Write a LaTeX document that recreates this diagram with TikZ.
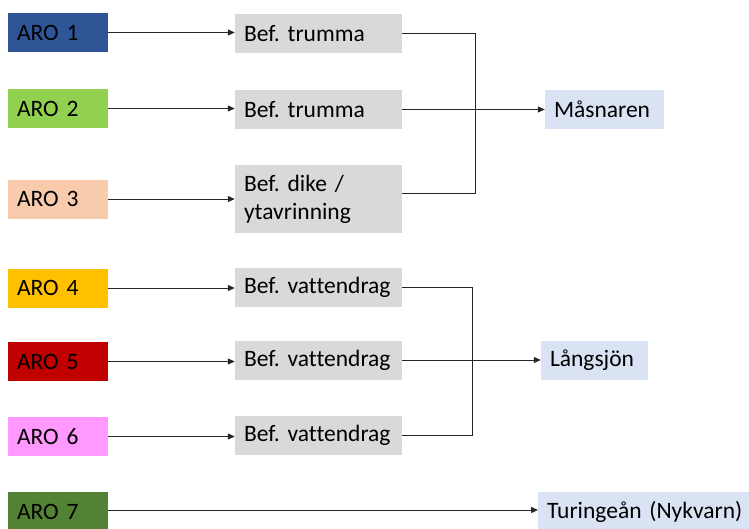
\documentclass[tikz,border=0pt]{standalone}
\usepackage{fontspec}
\setmainfont[Ligatures=NoCommon]{Carlito}
\frenchspacing
\usetikzlibrary{arrows.meta}
\definecolor{aroA}{HTML}{2F5597}
\definecolor{aroB}{HTML}{92D050}
\definecolor{aroC}{HTML}{F8CBAD}
\definecolor{aroD}{HTML}{FFC000}
\definecolor{aroE}{HTML}{C00000}
\definecolor{aroF}{HTML}{FF99FF}
\definecolor{aroG}{HTML}{548235}
\definecolor{befgray}{HTML}{D9D9D9}
\definecolor{recip}{HTML}{DAE3F3}
\definecolor{linec}{HTML}{262626}
\begin{document}
\frenchspacing
\begin{tikzpicture}[x=1pt,y=-1pt,
  base/.style={rectangle,inner xsep=9pt,inner ysep=0pt,align=left,
    minimum height=39pt,font=\fontsize{23.5}{28}\selectfont\frenchspacing},
  arobox/.style={base,text width=82pt},
  befbox/.style={base,fill=befgray,text width=149pt},
  recbox/.style={base,fill=recip},
  conn/.style={draw=linec,line width=1pt},
  arr/.style={conn,-{Triangle[length=7pt,width=6pt]}}
]
\clip (0,0) rectangle (749,528);
\fill[white] (0,0) rectangle (749,528);

% sources
\node[arobox,fill=aroA] (a1) at (58,32.5) {ARO 1};
\node[arobox,fill=aroB] (a2) at (58,108.5) {ARO 2};
\node[arobox,fill=aroC] (a3) at (58,199) {ARO 3};
\node[arobox,fill=aroD] (a4) at (58,288) {ARO 4};
\node[arobox,fill=aroE] (a5) at (58,361.5) {ARO 5};
\node[arobox,fill=aroF] (a6) at (58,436.5) {ARO 6};
\node[arobox,fill=aroG] (a7) at (58,511.5) {ARO 7};

% intermediate
\node[befbox] (b1) at (318.5,33.5) {Bef. trumma};
\node[befbox] (b2) at (318.5,109.5) {Bef. trumma};
\node[befbox,minimum height=68pt] (b3) at (318.5,199) {Bef. dike /\\ytavrinning};
\node[befbox] (b4) at (318.5,287) {Bef. vattendrag};
\node[befbox] (b5) at (318.5,360) {Bef. vattendrag};
\node[befbox] (b6) at (318.5,435.5) {Bef. vattendrag};

% recipients
\node[recbox,text width=101pt] (mas) at (604.5,109.5) {Måsnaren};
\node[recbox,text width=89pt] (lang) at (594.5,360.5) {Långsjön};
\node[recbox,text width=204pt,anchor=west] (tur) at (538,511.5) {Turingeån (Nykvarn)};

% junction coordinates
\coordinate (j1) at (475,109.5);
\coordinate (j2) at (472,360);

% arrows source -> intermediate
\draw[arr] (a1.east) -- (a1.east -| b1.west);
\draw[arr] (a2.east) -- (a2.east -| b2.west);
\draw[arr] (a3.east) -- (a3.east -| b3.west);
\draw[arr] (a4.east) -- (a4.east -| b4.west);
\draw[arr] (a5.east) -- (a5.east -| b5.west);
\draw[arr] (a6.east) -- (a6.east -| b6.west);

% upper bracket
\draw[conn] (b1.east) -| (j1);
\draw[conn] ([yshift=6pt]b3.east) -| (j1);
\draw[arr] (b2.east) -- (mas.west);

% lower bracket
\draw[conn] (b4.east) -| (j2);
\draw[conn] (b6.east) -| (j2);
\draw[arr] (b5.east) -- (b5.east -| lang.west);

% ARO 7
\draw[arr] ([yshift=1.5pt]a7.east) -- ([yshift=1.5pt]tur.west);
\end{tikzpicture}
\end{document}
